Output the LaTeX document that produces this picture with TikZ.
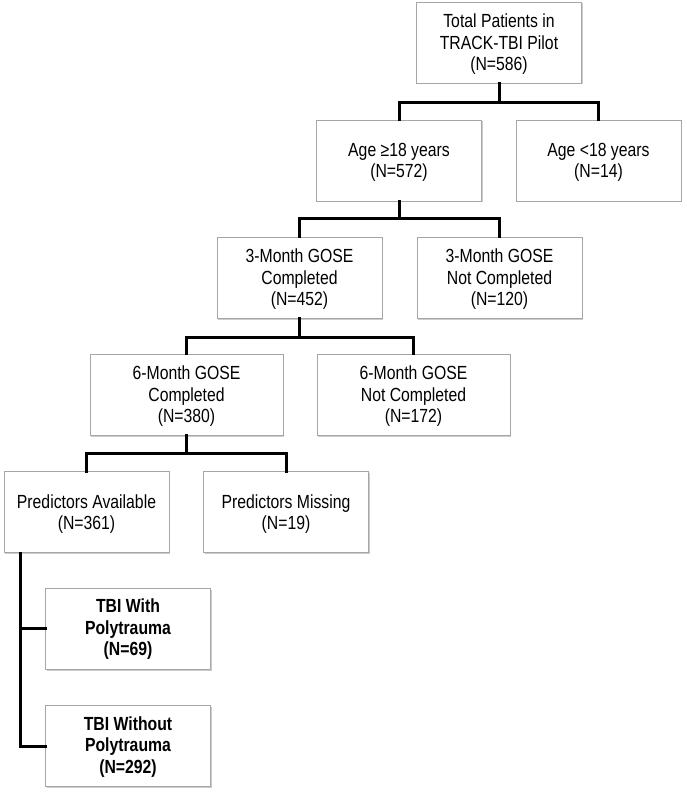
\documentclass[tikz,border=0pt]{standalone}
\usepackage{fontspec}
\setmainfont[FakeStretch=0.83]{Liberation Sans}
\usetikzlibrary{shadows}
\begin{document}
\begin{tikzpicture}[x=1pt,y=-1pt,
  box/.style={draw=black!35, line width=0.8pt, fill=white, align=center,
    inner sep=0pt, minimum height=81pt, minimum width=165pt, text depth=-3pt,
    font=\fontsize{19}{21.5}\selectfont,
    drop shadow={shadow xshift=1.2pt, shadow yshift=-1.5pt, fill=black!25, opacity=0.8}},
  wide/.style={minimum width=193pt},
  boldbox/.style={box, text depth=2pt, font=\fontsize{19}{21.5}\selectfont\bfseries},
  conn/.style={line width=3pt, line cap=rect, black}]
\useasboundingbox (0,0) rectangle (686,794);
\node[box] (tot) at (499,42.5) {Total Patients in\\TRACK-TBI Pilot\\(N=586)};
\node[box] (age) at (399,160.5) {Age ≥18 years\\(N=572)};
\node[box] (young) at (598.5,160.5) {Age <18 years\\(N=14)};
\node[box] (m3c) at (299.5,277.5) {3-Month GOSE\\Completed\\(N=452)};
\node[box] (m3n) at (499.5,277.5) {3-Month GOSE\\Not Completed\\(N=120)};
\node[box,wide] (m6c) at (186.5,394.5) {6-Month GOSE\\Completed\\(N=380)};
\node[box,wide] (m6n) at (413.5,394.5) {6-Month GOSE\\Not Completed\\(N=172)};
\node[box] (pa) at (86.5,512) {Predictors Available\\(N=361)};
\node[box] (pm) at (286,512) {Predictors Missing\\(N=19)};
\node[boldbox] (tw) at (128,628.5) {TBI With\\Polytrauma\\(N=69)};
\node[boldbox] (two) at (128,746) {TBI Without\\Polytrauma\\(N=292)};
\coordinate (b1) at (499,103);
\coordinate (b2) at (399,219);
\coordinate (b3) at (299.5,337);
\coordinate (b4) at (186.5,453);
\coordinate (v0) at (20,553);
\draw[conn] (tot.south) -- (b1);
\draw[conn] (age.north) |- (b1) -| (young.north);
\draw[conn] (age.south) -- (b2);
\draw[conn] (m3c.north) |- (b2) -| (m3n.north);
\draw[conn] (m3c.south) -- (b3);
\draw[conn] (m6c.north) |- (b3) -| (m6n.north);
\draw[conn] (m6c.south) -- (b4);
\draw[conn] (pa.north) |- (b4) -| (pm.north);
\draw[conn] (v0) |- (two.west);
\draw[conn] (v0 |- tw.west) -- (tw.west);
\end{tikzpicture}
\end{document}
